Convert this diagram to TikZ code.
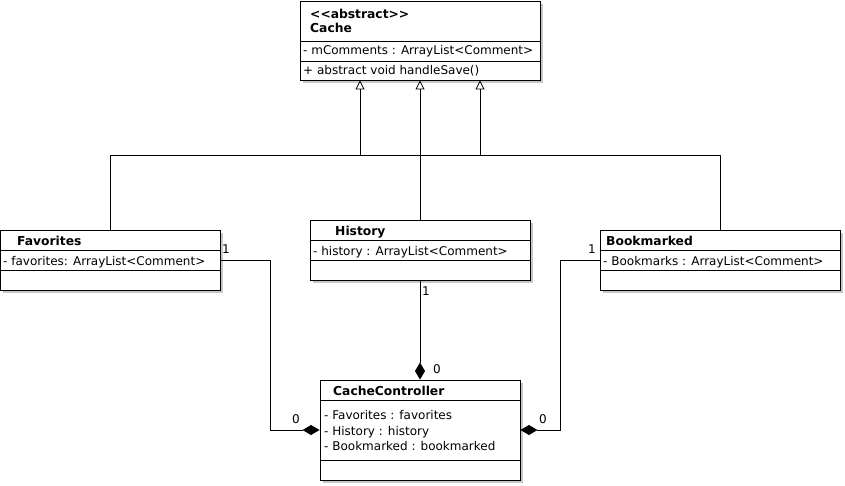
\documentclass[tikz,border=0pt]{standalone}
\usepackage{fontspec}
\setmainfont{DejaVu Sans}
\usetikzlibrary{arrows.meta,shadows}
\begin{document}
\begin{tikzpicture}[x=1pt,y=-1pt,
  classbox/.style={draw=black, fill=white, line width=0.9pt, inner sep=0pt,
    drop shadow={shadow xshift=3pt, shadow yshift=-3pt, fill=black!22, opacity=1}},
  divline/.style={line width=0.9pt},
  txt/.style={anchor=base west, inner sep=0pt, font=\fontsize{12}{14}\selectfont},
  ttl/.style={anchor=base west, inner sep=0pt, font=\fontsize{12.3}{14}\selectfont\bfseries},
  inh/.style={line width=0.8pt, -{Triangle[open, width=9pt, length=9pt]}},
  comp/.style={line width=0.8pt, -{Diamond[fill=black, width=10pt, length=17pt]}},
  conn/.style={line width=0.8pt},
  mult/.style={anchor=base, inner sep=0pt, font=\fontsize{12}{14}\selectfont}]
\useasboundingbox[fill=white] (0,0) rectangle (845,485);

% Cache
\node[classbox, minimum width=240pt, minimum height=79pt] (cache) at (420,40.5) {};
\draw[divline] (cache.west |- 0,41) -- (cache.east |- 0,41);
\draw[divline] (cache.west |- 0,61) -- (cache.east |- 0,61);
\node[ttl] (cachest) at (310,18) {<{}<abstract>{}>};
\node[ttl] (cachename) at (310,32) {Cache};
\node[txt] (cacheattr) at (303,54.5) {- mComments : ArrayList<Comment>};
\node[txt] (cachemeth) at (303,74.5) {+ abstract void handleSave()};

% Favorites
\node[classbox, minimum width=220pt, minimum height=60pt] (fav) at (110,260) {};
\draw[divline] (fav.west |- 0,250) -- (fav.east |- 0,250);
\draw[divline] (fav.west |- 0,270) -- (fav.east |- 0,270);
\node[ttl] (favname) at (17,245) {Favorites};
\node[txt] (favattr) at (3,265) {- favorites: ArrayList<Comment>};

% History
\node[classbox, minimum width=220pt, minimum height=60pt] (hist) at (420,250) {};
\draw[divline] (hist.west |- 0,240) -- (hist.east |- 0,240);
\draw[divline] (hist.west |- 0,260) -- (hist.east |- 0,260);
\node[ttl] (histname) at (335,235) {History};
\node[txt] (histattr) at (313,255) {- history : ArrayList<Comment>};

% Bookmarked
\node[classbox, minimum width=240pt, minimum height=60pt] (book) at (720,260) {};
\draw[divline] (book.west |- 0,250) -- (book.east |- 0,250);
\draw[divline] (book.west |- 0,270) -- (book.east |- 0,270);
\node[ttl] (bookname) at (606,245) {Bookmarked};
\node[txt] (bookattr) at (603,265) {- Bookmarks : ArrayList<Comment>};

% CacheController
\node[classbox, minimum width=200pt, minimum height=100pt] (ctrl) at (420,430) {};
\draw[divline] (ctrl.west |- 0,400) -- (ctrl.east |- 0,400);
\draw[divline] (ctrl.west |- 0,460) -- (ctrl.east |- 0,460);
\node[ttl] (ctrlname) at (333,395) {CacheController};
\node[txt] (ctrla) at (324,419.5) {- Favorites : favorites};
\node[txt] (ctrlb) at (324,435) {- History : history};
\node[txt] (ctrlc) at (324,450.5) {- Bookmarked : bookmarked};

% Inheritance
\coordinate (jl) at (110,155);
\coordinate (jr) at (720,155);
\draw[conn] (fav.north) -- (jl) -- (jr) -- (book.north);
\draw[inh] (360,155) -- (cache.south -| 360,0);
\draw[inh] (480,155) -- (cache.south -| 480,0);
\draw[inh] (hist.north) -- (cache.south);

% Composition
\draw[comp] (fav.east |- 0,260) -- (270,260) |- (ctrl.west |- 0,430);
\draw[comp] (hist.south) -- (ctrl.north);
\draw[comp] (book.west |- 0,260) -- (560,260) |- (ctrl.east |- 0,430);

% Multiplicities
\node[mult] (m1) at (226,253.5) {1};
\node[mult] (m2) at (296,423.5) {0};
\node[mult] (m3) at (426,295.5) {1};
\node[mult] (m4) at (437,373.5) {0};
\node[mult] (m5) at (592,253.5) {1};
\node[mult] (m6) at (543,423.5) {0};
\end{tikzpicture}
\end{document}
